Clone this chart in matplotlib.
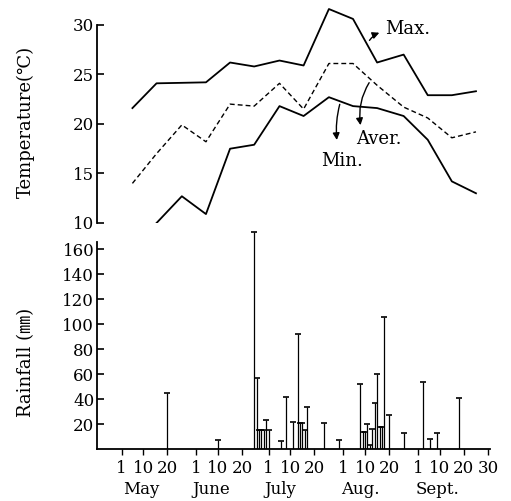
import numpy as np
import matplotlib
matplotlib.use('Agg')
import matplotlib.pyplot as plt
import matplotlib.transforms as mtransforms

plt.rcParams['font.family'] = ['DejaVu Serif', 'Noto Sans CJK JP']

# x axis: days counted from 1 May (May 1 = 0)
dekad_day = [4.5, 14.5, 25, 35, 45, 55, 65.5, 75.5, 86, 96, 106, 117, 127, 137, 147]
t_max = [21.6, 24.1, 24.15, 24.2, 26.2, 25.8, 26.4, 25.9, 31.6, 30.6, 26.2, 27.0, 22.9, 22.9, 23.3]
t_aver = [14.0, 17.0, 19.9, 18.2, 22.0, 21.8, 24.1, 21.5, 26.1, 26.1, 23.9, 21.7, 20.6, 18.6, 19.2]
t_min = [np.nan, 10.0, 12.7, 10.9, 17.5, 17.9, 21.8, 20.8, 22.7, 21.8, 21.6, 20.8, 18.4, 14.2, 13.0]

# daily rainfall (mm)
rain_day = [19, 40, 55, 56, 57, 58, 59, 60, 61, 66, 68, 71, 73, 74, 75, 76, 77, 84, 90,
            99, 100, 101, 102, 103, 104, 105, 106, 107, 108, 109, 111, 117, 125, 128, 131, 140]
rain_mm = [45, 7, 174, 57, 15, 15, 15, 23, 15, 6, 42, 22, 92, 21, 21, 15, 34, 21, 7,
           52, 14, 14, 20, 3, 16, 37, 60, 18, 18, 106, 27, 13, 54, 8, 13, 41]

tick_day = [0, 9, 19, 31, 40, 50, 61, 70, 80, 92, 101, 111, 123, 132, 142, 152]
tick_lab = ['1', '10', '20', '1', '10', '20', '1', '10', '20', '1', '10', '20', '1', '10', '20', '30']
months = ['May', 'June', 'July', 'Aug.', 'Sept.']
month_pos = [8, 37, 66, 99, 131]

fig = plt.figure(figsize=(5.11, 5.01), dpi=100)
ax_t = fig.add_axes([0.1898, 0.5549, 0.769, 0.435])
ax_r = fig.add_axes([0.1898, 0.1038, 0.769, 0.449])

xlim = (-10.2, 152.8)

# temperature panel
ax_t.plot(dekad_day, t_max, color='black', lw=1.3)
ax_t.plot(dekad_day, t_aver, color='black', lw=1.0, dashes=(3.5, 2.2))
ax_t.plot(dekad_day, t_min, color='black', lw=1.3)
ax_t.set_xlim(xlim)
ax_t.set_ylim(10, 32)
for s in ['top', 'right', 'bottom']:
    ax_t.spines[s].set_visible(False)
ax_t.spines['left'].set_bounds(10, 30)
ax_t.spines['left'].set_linewidth(1.3)
ax_t.set_xticks([])
ax_t.set_yticks([10, 15, 20, 25, 30])
ax_t.tick_params(axis='y', direction='in', length=5, width=1.2, labelsize=12, pad=2)

arrow = dict(arrowstyle='-|>', color='black', lw=1.0, mutation_scale=10)
ax_t.annotate('', xy=(108, 29.3), xytext=(102.2, 28.2),
              arrowprops=dict(arrow, connectionstyle='arc3,rad=-0.2'))
ax_t.text(109.3, 29.55, 'Max.', fontsize=13, va='center', ha='left')
ax_t.annotate('', xy=(99.3, 19.6), xytext=(103.3, 24.4),
              arrowprops=dict(arrow, connectionstyle='arc3,rad=0.2'))
ax_t.text(97.4, 18.5, 'Aver.', fontsize=13, va='center', ha='left')
ax_t.annotate('', xy=(89.4, 18.1), xytext=(90.8, 22.25),
              arrowprops=dict(arrow, connectionstyle='arc3,rad=0.1'))
ax_t.text(82.6, 16.3, 'Min.', fontsize=13, va='center', ha='left')

# rainfall panel
ax_r.vlines(rain_day, 0, rain_mm, color='black', lw=0.9)
ax_r.plot(rain_day, rain_mm, ls='none', marker='_', ms=4.5, mew=1.2, color='black')
ax_r.set_xlim(xlim)
ax_r.set_ylim(0, 180)
for s in ['top', 'right']:
    ax_r.spines[s].set_visible(False)
ax_r.spines['left'].set_bounds(0, 166)
ax_r.spines['left'].set_linewidth(1.3)
ax_r.spines['bottom'].set_linewidth(1.3)
ax_r.set_yticks(range(20, 161, 20))
ax_r.tick_params(axis='y', direction='in', length=5, width=1.2, labelsize=12, pad=2)
ax_r.set_xticks(tick_day)
ax_r.set_xticklabels(tick_lab)
ax_r.tick_params(axis='x', direction='out', length=4, width=1.0, labelsize=12, pad=4)

trans = mtransforms.blended_transform_factory(ax_r.transData, ax_r.transAxes)
for name, p in zip(months, month_pos):
    ax_r.text(p, -0.178, name, transform=trans, fontsize=12, ha='center', va='center')

fig.text(26 / 511, 1 - 122 / 501, 'Temperature(℃)', rotation=90, fontsize=13, ha='center', va='center')
fig.text(26 / 511, 1 - 362 / 501, 'Rainfall (㎜)', rotation=90, fontsize=13, ha='center', va='center')

fig.savefig('out.png', dpi=100)
